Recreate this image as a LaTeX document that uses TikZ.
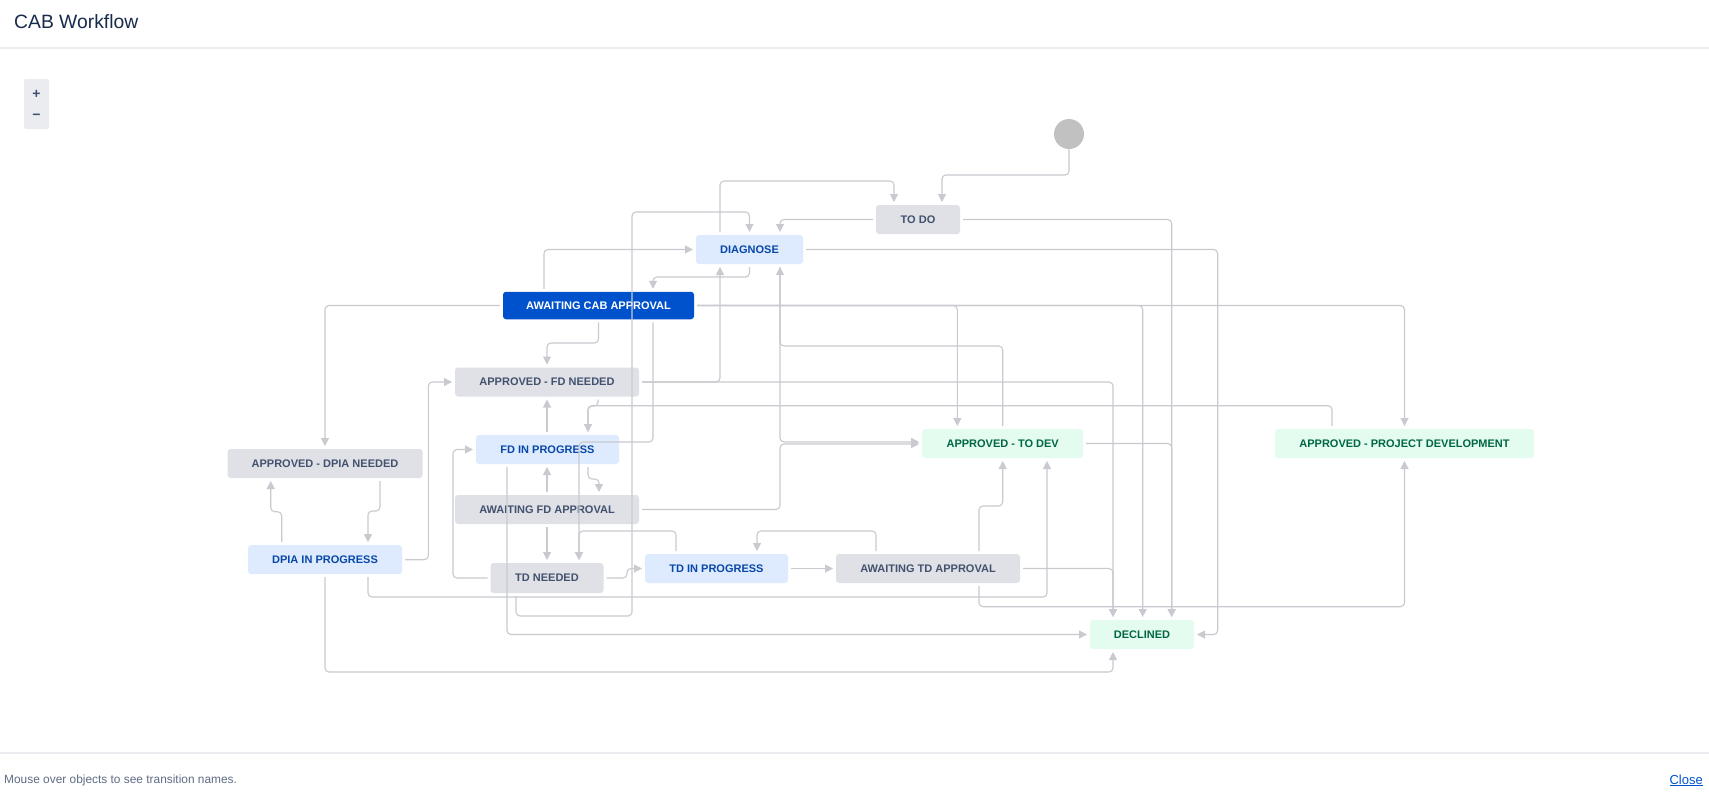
\documentclass[tikz,border=0pt]{standalone}
\usepackage{fontspec}
\setmainfont{Liberation Sans}
\usetikzlibrary{arrows.meta,calc}
\definecolor{linec}{HTML}{C8CACF}
\definecolor{gfill}{HTML}{DFE1E6}
\definecolor{gtext}{HTML}{42526E}
\definecolor{bfill}{HTML}{DEEBFF}
\definecolor{btext}{HTML}{0747A6}
\definecolor{grfill}{HTML}{E3FCEF}
\definecolor{grtext}{HTML}{006644}
\definecolor{cabfill}{HTML}{0052CC}
\definecolor{titlec}{HTML}{172B4D}
\definecolor{footc}{HTML}{5E6C84}
\definecolor{sepc}{HTML}{EBECF0}
\definecolor{startc}{HTML}{C1C1C1}
\tikzset{
  box/.style={rectangle, rounded corners=3pt, inner sep=0pt, outer sep=3pt,
    minimum height=29pt, font=\fontsize{11}{13}\selectfont\bfseries},
  gbox/.style={box, fill=gfill, text=gtext},
  bbox/.style={box, fill=bfill, text=btext},
  grbox/.style={box, fill=grfill, text=grtext},
  cabbox/.style={box, fill=cabfill, text=white},
  conn/.style={draw=linec, line width=1.1pt, rounded corners=4pt,
    -{Triangle[length=8pt,width=8pt]}}
}
\begin{document}
\begin{tikzpicture}[x=1pt,y=-1pt]
\useasboundingbox (0,0) rectangle (1709,801);
\fill[white] (0,0) rectangle (1709,801);
% header and footer
\node[anchor=base west, inner sep=0pt, text=titlec, font=\fontsize{19.3}{23}\selectfont] (title) at (14,28.3) {CAB Workflow};
\fill[sepc] (0,47) rectangle (1709,49);
\fill[sepc] (0,751.7) rectangle (1709,753.7);
\node[anchor=west, inner sep=0pt, text=footc, font=\fontsize{11.9}{14}\selectfont] (foot) at (4,780.7) {Mouse over objects to see transition names.};
\node[anchor=east, inner sep=0pt, text=cabfill, font=\fontsize{13}{15}\selectfont] (close) at (1703,780.5) {\underline{Close}};
\fill[sepc, rounded corners=2pt] (24,79) rectangle (49,129);
\node[text=gtext, inner sep=0pt, font=\fontsize{14}{16}\selectfont\bfseries] (zin) at (36.5,94) {+};
\node[text=gtext, inner sep=0pt, font=\fontsize{14}{16}\selectfont\bfseries] (zout) at (36.5,116.5) {−};
% nodes
\node[circle, fill=startc, minimum size=30pt, inner sep=0pt, outer sep=0pt] (start) at (1069,134) {};
\node[gbox, minimum width=84pt] (todo) at (918,219.5) {TO DO};
\node[bbox, minimum width=107pt] (diag) at (749.5,249.5) {DIAGNOSE};
\node[cabbox, minimum width=191pt, minimum height=27.5pt] (cab) at (598.5,305.5) {AWAITING CAB APPROVAL};
\node[gbox, minimum width=184pt] (fdn) at (547,382) {APPROVED - FD NEEDED};
\node[bbox, minimum width=143pt] (fdip) at (547.5,449.5) {FD IN PROGRESS};
\node[gbox, minimum width=195pt] (dpian) at (325,463.5) {APPROVED - DPIA NEEDED};
\node[gbox, minimum width=184pt] (afd) at (547,509.5) {AWAITING FD APPROVAL};
\node[bbox, minimum width=154pt] (dpiaip) at (325,559.7) {DPIA IN PROGRESS};
\node[gbox, minimum width=113pt, minimum height=30pt] (tdn) at (547,578) {TD NEEDED};
\node[bbox, minimum width=143pt] (tdip) at (716.5,568.5) {TD IN PROGRESS};
\node[gbox, minimum width=184pt] (atda) at (928,568.5) {AWAITING TD APPROVAL};
\node[grbox, minimum width=161pt] (todev) at (1002.7,443.5) {APPROVED - TO DEV};
\node[grbox, minimum width=259pt] (pd) at (1404.5,443.5) {APPROVED - PROJECT DEVELOPMENT};
\node[grbox, minimum width=104pt] (declined) at (1142,634.5) {DECLINED};
% connectors
\draw[conn] (start.south) |- (942,175) -- ($(todo.north)+(24,0)$);
\draw[conn] ($(diag.north)+(-29.5,0)$) |- (894,181) -- ($(todo.north)+(-24,0)$);
\draw[conn] (todo.west) -| ($(diag.north)+(30.5,0)$);
\draw[conn] ($(tdn.south)+(-31,0)$) |- (632,616) -- (632,212) -| (diag.north);
\draw[conn] ($(cab.north)+(-54.5,0)$) |- (diag.west);
\draw[conn] (diag.south) |- (653,277) -- ($(cab.north)+(54.5,0)$);
\draw[conn] (fdn.east) -| ($(diag.south)+(-29.5,0)$);
\draw[conn] (todev.north) |- (780,346) -- ($(diag.south)+(30.5,0)$);
\draw[conn] ($(diag.south)+(30.5,0)$) |- ($(todev.west)+(0,-1.5)$);
\draw[conn] (afd.east) -| (780,444) -- ($(todev.west)+(0,0.5)$);
\draw[conn] (diag.east) -| ($(declined.east)+(20.7,0)$) -- (declined.east);
\draw[conn] (todo.east) -| ($(declined.north)+(29.7,0)$);
\draw[conn] (cab.east) -| ($(todev.north)+(-45.4,0)$);
\draw[conn] (cab.east) -| ($(declined.north)+(0.7,0)$);
\draw[conn] (cab.east) -| (pd.north);
\draw[conn] (cab.west) -| (dpian.north);
\draw[conn] (cab.south) |- (547,343) -- (fdn.north);
\draw[conn] ($(cab.south)+(54.5,0)$) |- (579,442) -- ($(tdn.north)+(32,0)$);
\draw[conn] (fdn.east) -| ($(declined.north)+(-29,0)$);
\draw[conn] ($(fdn.south)+(51,0)$) |- (588,406) -- ($(fdip.north)+(40.5,0)$);
\draw[conn] ($(pd.north)+(-72.5,0)$) |- (588,405.7) -- ($(fdip.north)+(40.5,0)$);
\draw[conn] ($(fdip.north)+(-0.5,0)$) -- (fdn.south);
\draw[conn] ($(fdip.south)+(40.5,0)$) |- (599,479) -- ($(afd.north)+(52,0)$);
\draw[conn] (afd.north) -- ($(fdip.south)+(-0.5,0)$);
\draw[conn] (afd.south) -- (tdn.north);
\draw[conn] (tdn.west) -| (453,449.5) -- (fdip.west);
\draw[conn] (tdn.east) -- (627,578) -- (627,568.5) -- (tdip.west);
\draw[conn] ($(tdip.north)+(-40.5,0)$) |- (579,531) -- ($(tdn.north)+(32,0)$);
\draw[conn] (tdip.east) -- (atda.west);
\draw[conn] ($(atda.north)+(-52,0)$) |- (757,531) -- ($(tdip.north)+(40.5,0)$);
\draw[conn] ($(atda.north)+(51,0)$) |- (1002.7,506) -- (todev.south);
\draw[conn] (atda.east) -| ($(declined.north)+(-29,0)$);
\draw[conn] ($(atda.south)+(51,0)$) |- (1404.5,606.7) -- (pd.south);
\draw[conn] ($(dpiaip.south)+(43,0)$) |- (1047,597) -- ($(todev.south)+(44.3,0)$);
\draw[conn] (dpiaip.south) |- (1113,672) -- ($(declined.south)+(-29,0)$);
\draw[conn] ($(dpiaip.north)+(-43.3,0)$) |- (270.7,511.7) -- ($(dpian.south)+(-54.3,0)$);
\draw[conn] ($(dpian.south)+(55,0)$) |- (368,511) -- ($(dpiaip.north)+(43,0)$);
\draw[conn] (dpiaip.east) -| (428.3,382) -- (fdn.west);
\draw[conn] ($(fdip.south)+(-40.5,0)$) |- (declined.west);
\draw[conn] (todev.east) -| ($(declined.north)+(29.7,0)$);
\end{tikzpicture}
\end{document}
